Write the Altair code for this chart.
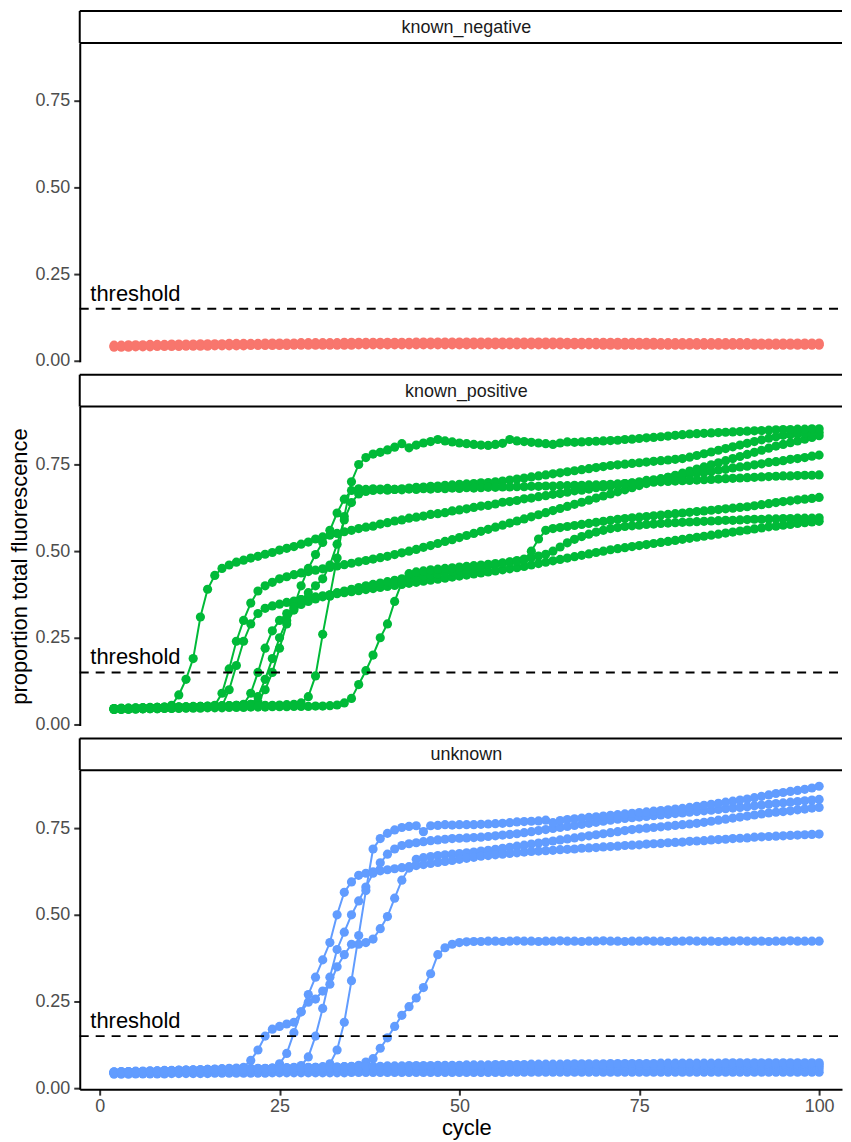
import altair as alt
import pandas as pd

cycles = list(range(2, 101))
threshold = 0.15

# ---------------- known_negative ----------------
neg_a = [.042,.042,.043,.043,.043,.044,.044,.044,.045,.045,
         .045,.045,.046,.046,.046,.046,.047,.047,.047,.047,
         .047,.048,.048,.048,.048,.048,.049,.049,.049,.049,
         .049,.049,.049,.050,.050,.050,.050,.050,.050,.050,
         .050,.050,.050,.050,.051,.051,.051,.051,.051,.051,
         .051,.051,.051,.051,.051,.051,.051,.051,.051,.051,
         .051,.051,.050,.050,.050,.050,.050,.050,.050,.050,
         .050,.050,.050,.050,.050,.050,.049,.049,.049,.049,
         .049,.049,.049,.049,.049,.049,.049,.049,.048,.048,
         .048,.048,.048,.048,.048,.048,.048,.048,.048]
neg_b = [.039,.039,.039,.040,.040,.040,.041,.041,.041,.041,
         .042,.042,.042,.042,.043,.043,.043,.043,.043,.044,
         .044,.044,.044,.044,.044,.045,.045,.045,.045,.045,
         .045,.045,.045,.045,.046,.046,.046,.046,.046,.046,
         .046,.046,.046,.046,.046,.046,.046,.046,.046,.046,
         .046,.046,.046,.046,.046,.046,.046,.046,.046,.046,
         .046,.046,.046,.046,.046,.046,.046,.046,.045,.045,
         .045,.045,.045,.045,.045,.045,.045,.045,.045,.045,
         .045,.045,.045,.045,.045,.045,.045,.045,.045,.045,
         .045,.045,.045,.045,.045,.045,.045,.045,.045]
neg_c = [.045,.045,.046,.046,.046,.047,.047,.047,.048,.048,
         .048,.048,.049,.049,.049,.049,.050,.050,.050,.050,
         .050,.051,.051,.051,.051,.051,.052,.052,.052,.052,
         .052,.052,.053,.053,.053,.053,.053,.053,.053,.053,
         .053,.053,.054,.054,.054,.054,.054,.054,.054,.054,
         .054,.054,.054,.054,.054,.054,.054,.054,.054,.054,
         .054,.054,.054,.053,.053,.053,.053,.053,.053,.053,
         .053,.053,.053,.053,.053,.053,.052,.052,.052,.052,
         .052,.052,.052,.052,.052,.052,.052,.052,.052,.051,
         .051,.051,.051,.051,.051,.051,.051,.051,.051]

# ---------------- known_positive ----------------
pos_1 = [.045,.046,.046,.047,.048,.048,.049,.050,.055,.085,
         .130,.190,.310,.390,.430,.450,.460,.468,.474,.480,
         .485,.491,.496,.503,.508,.513,.520,.526,.535,.541,
         .546,.551,.556,.560,.565,.569,.572,.578,.582,.587,
         .590,.595,.598,.601,.606,.608,.611,.616,.619,.622,
         .626,.630,.632,.636,.641,.643,.646,.651,.653,.657,
         .660,.664,.666,.670,.674,.676,.679,.683,.685,.688,
         .691,.695,.697,.700,.704,.706,.709,.713,.715,.718,
         .721,.725,.727,.730,.734,.736,.740,.743,.745,.749,
         .752,.756,.758,.761,.765,.767,.770,.774,.777]
pos_2 = [.044,.045,.045,.046,.046,.047,.047,.048,.048,.049,
         .049,.050,.051,.052,.055,.090,.160,.240,.300,.350,
         .385,.400,.410,.420,.426,.432,.437,.441,.445,.449,
         .453,.457,.461,.465,.469,.473,.477,.481,.485,.490,
         .495,.500,.505,.511,.516,.522,.528,.533,.539,.545,
         .551,.557,.563,.569,.575,.581,.587,.593,.599,.605,
         .611,.617,.623,.629,.635,.641,.647,.653,.659,.665,
         .671,.677,.683,.689,.695,.701,.707,.713,.719,.725,
         .731,.737,.743,.749,.755,.761,.767,.773,.779,.785,
         .791,.797,.803,.808,.813,.818,.823,.828,.833]
pos_3 = [.043,.044,.044,.045,.045,.046,.046,.047,.047,.048,
         .048,.049,.049,.050,.051,.053,.100,.170,.240,.290,
         .320,.335,.342,.347,.352,.356,.360,.364,.368,.371,
         .374,.377,.380,.383,.386,.389,.392,.395,.398,.401,
         .404,.407,.410,.413,.416,.419,.422,.425,.428,.431,
         .434,.437,.440,.443,.446,.449,.452,.456,.460,.464,
         .468,.472,.476,.480,.484,.488,.492,.496,.500,.504,
         .507,.510,.513,.516,.519,.522,.525,.528,.531,.534,
         .537,.540,.543,.546,.549,.552,.555,.558,.561,.564,
         .567,.570,.572,.575,.577,.580,.582,.584,.586]
pos_4 = [.046,.046,.047,.047,.048,.048,.049,.049,.050,.050,
         .051,.051,.052,.052,.053,.053,.054,.055,.058,.090,
         .150,.220,.270,.300,.320,.335,.346,.355,.362,.368,
         .374,.380,.385,.390,.395,.400,.404,.408,.412,.416,
         .420,.423,.426,.429,.432,.435,.438,.441,.444,.447,
         .450,.453,.457,.461,.465,.469,.473,.477,.481,.486,
         .491,.500,.512,.524,.534,.542,.549,.555,.560,.565,
         .568,.571,.573,.575,.577,.578,.580,.581,.582,.583,
         .584,.585,.586,.587,.588,.589,.589,.590,.591,.592,
         .592,.593,.593,.594,.594,.595,.595,.595,.596]
pos_5 = [.045,.045,.046,.046,.047,.047,.048,.048,.049,.049,
         .050,.050,.051,.051,.052,.052,.053,.054,.055,.058,
         .080,.130,.190,.250,.300,.340,.400,.450,.490,.525,
         .560,.610,.650,.675,.680,.678,.680,.679,.681,.678,
         .680,.682,.684,.685,.687,.688,.690,.691,.693,.694,
         .695,.697,.698,.700,.702,.705,.708,.711,.714,.717,
         .720,.723,.726,.729,.732,.735,.738,.741,.744,.747,
         .749,.751,.753,.755,.757,.759,.761,.763,.765,.767,
         .771,.776,.781,.786,.791,.796,.801,.806,.811,.816,
         .821,.826,.830,.834,.836,.838,.840,.841,.842]
pos_6 = [.046,.047,.047,.048,.048,.049,.049,.050,.050,.051,
         .051,.052,.052,.053,.053,.054,.054,.055,.056,.058,
         .065,.100,.150,.220,.290,.330,.360,.380,.400,.420,
         .460,.520,.590,.640,.665,.672,.675,.677,.676,.678,
         .677,.679,.678,.680,.679,.681,.680,.682,.681,.683,
         .682,.683,.684,.684,.685,.685,.686,.686,.687,.687,
         .688,.688,.689,.689,.690,.690,.691,.691,.692,.693,
         .694,.695,.696,.697,.698,.699,.700,.701,.702,.703,
         .704,.705,.706,.707,.708,.709,.710,.711,.712,.713,
         .714,.715,.716,.717,.717,.718,.719,.719,.720]
pos_7 = [.044,.045,.045,.046,.046,.047,.047,.048,.048,.049,
         .049,.050,.050,.051,.051,.052,.052,.053,.053,.054,
         .054,.055,.055,.056,.057,.058,.062,.080,.140,.260,
         .370,.480,.600,.700,.750,.770,.780,.785,.792,.800,
         .810,.798,.806,.812,.816,.822,.818,.815,.812,.810,
         .808,.806,.805,.808,.811,.822,.818,.816,.814,.812,
         .810,.808,.812,.815,.814,.815,.816,.817,.818,.819,
         .820,.822,.823,.825,.827,.828,.830,.832,.834,.836,
         .838,.839,.840,.841,.842,.843,.844,.845,.846,.847,
         .848,.849,.850,.851,.851,.852,.852,.853,.853]
pos_8 = [.043,.043,.044,.044,.045,.045,.045,.046,.046,.046,
         .047,.047,.047,.048,.048,.048,.049,.049,.049,.050,
         .050,.050,.051,.051,.051,.052,.052,.052,.053,.053,
         .054,.056,.062,.075,.115,.155,.200,.250,.290,.355,
         .410,.435,.440,.443,.446,.448,.450,.452,.454,.456,
         .458,.460,.462,.464,.466,.468,.470,.475,.500,.535,
         .560,.565,.568,.571,.574,.577,.580,.583,.586,.589,
         .592,.594,.596,.598,.600,.602,.604,.606,.608,.610,
         .612,.614,.616,.618,.620,.622,.624,.626,.628,.631,
         .634,.637,.640,.643,.645,.648,.650,.652,.655]

# ---------------- unknown ----------------
unk_1 = [.045,.046,.046,.047,.048,.048,.049,.050,.050,.051,
         .052,.052,.053,.054,.055,.056,.057,.058,.060,.080,
         .110,.150,.170,.178,.185,.190,.220,.248,.257,.280,
         .300,.350,.385,.415,.415,.420,.430,.460,.495,.548,
         .600,.635,.660,.665,.668,.671,.673,.675,.677,.679,
         .681,.684,.686,.689,.692,.695,.698,.701,.704,.707,
         .710,.713,.716,.719,.722,.725,.728,.731,.734,.737,
         .740,.743,.746,.748,.750,.752,.754,.756,.758,.760,
         .762,.764,.767,.770,.773,.776,.779,.782,.785,.788,
         .791,.794,.796,.798,.800,.803,.805,.808,.810]
unk_2 = [.044,.045,.045,.046,.046,.047,.047,.048,.048,.049,
         .049,.050,.050,.051,.051,.052,.052,.053,.053,.054,
         .055,.056,.058,.070,.100,.160,.220,.270,.320,.370,
         .420,.500,.565,.595,.614,.620,.624,.627,.630,.633,
         .636,.639,.642,.645,.648,.651,.654,.657,.660,.663,
         .666,.669,.671,.673,.675,.677,.679,.681,.683,.684,
         .685,.686,.688,.689,.690,.692,.693,.694,.696,.697,
         .698,.700,.701,.702,.704,.705,.706,.708,.709,.710,
         .712,.713,.714,.716,.717,.718,.720,.721,.722,.724,
         .725,.726,.727,.728,.729,.730,.731,.732,.733]
unk_3 = [.046,.046,.047,.047,.048,.048,.049,.049,.050,.050,
         .051,.051,.052,.052,.053,.053,.054,.054,.055,.055,
         .056,.056,.057,.057,.058,.060,.065,.090,.150,.230,
         .320,.400,.450,.500,.540,.580,.620,.650,.675,.690,
         .700,.705,.708,.711,.714,.716,.718,.720,.721,.722,
         .723,.724,.726,.728,.730,.732,.734,.737,.740,.743,
         .746,.749,.752,.755,.758,.761,.764,.767,.770,.773,
         .776,.778,.780,.782,.784,.786,.788,.790,.792,.794,
         .796,.798,.800,.802,.804,.806,.808,.810,.812,.815,
         .817,.819,.821,.823,.825,.827,.829,.831,.833]
unk_4 = [.044,.045,.045,.046,.046,.047,.047,.048,.048,.049,
         .049,.050,.050,.051,.051,.052,.052,.053,.053,.054,
         .054,.055,.055,.056,.056,.057,.058,.059,.060,.062,
         .070,.110,.190,.310,.440,.570,.690,.720,.735,.745,
         .752,.755,.757,.740,.757,.758,.760,.759,.760,.760,
         .760,.761,.762,.763,.764,.766,.768,.769,.770,.771,
         .773,.766,.772,.775,.777,.779,.781,.783,.785,.787,
         .789,.791,.793,.795,.797,.799,.801,.803,.805,.807,
         .810,.813,.816,.819,.822,.825,.828,.831,.834,.838,
         .842,.846,.850,.853,.856,.859,.862,.866,.871]
unk_5 = [.045,.045,.046,.046,.047,.047,.048,.048,.049,.049,
         .050,.050,.051,.051,.052,.052,.053,.053,.054,.054,
         .055,.055,.056,.056,.057,.057,.058,.058,.059,.059,
         .060,.061,.062,.063,.066,.075,.085,.115,.145,.178,
         .210,.235,.260,.290,.330,.385,.405,.415,.420,.422,
         .423,.423,.424,.424,.423,.424,.425,.424,.424,.423,
         .424,.424,.425,.424,.424,.423,.424,.424,.425,.424,
         .424,.423,.424,.424,.425,.424,.424,.423,.424,.424,
         .425,.424,.424,.424,.423,.424,.424,.425,.424,.424,
         .424,.423,.424,.424,.425,.424,.424,.424,.424]
unk_6 = [.040,.040,.040,.041,.041,.041,.041,.041,.042,.042,
         .042,.042,.042,.042,.043,.043,.043,.043,.043,.043,
         .043,.043,.044,.044,.044,.044,.044,.044,.044,.044,
         .044,.044,.044,.045,.045,.045,.045,.045,.045,.045,
         .045,.045,.045,.045,.045,.045,.045,.045,.045,.045,
         .045,.045,.045,.045,.045,.046,.046,.046,.046,.046,
         .046,.046,.046,.046,.046,.046,.046,.046,.046,.046,
         .046,.046,.046,.046,.046,.046,.046,.046,.046,.046,
         .046,.046,.046,.046,.046,.046,.046,.046,.046,.046,
         .046,.046,.046,.046,.046,.046,.046,.046,.046]
unk_7 = [.043,.043,.044,.044,.044,.045,.045,.045,.046,.046,
         .046,.046,.047,.047,.047,.047,.048,.048,.048,.048,
         .049,.049,.049,.049,.050,.050,.050,.050,.050,.051,
         .051,.051,.051,.051,.051,.052,.052,.052,.052,.052,
         .052,.052,.053,.053,.053,.053,.053,.053,.053,.053,
         .053,.054,.054,.054,.054,.054,.054,.054,.054,.054,
         .054,.054,.054,.054,.054,.055,.055,.055,.055,.055,
         .055,.055,.055,.055,.055,.055,.055,.055,.055,.055,
         .055,.055,.055,.055,.055,.055,.055,.055,.055,.055,
         .055,.055,.055,.055,.055,.055,.055,.055,.055]
unk_8 = [.045,.045,.046,.046,.047,.047,.048,.048,.048,.049,
         .049,.050,.050,.050,.051,.051,.051,.052,.052,.052,
         .053,.053,.053,.054,.054,.054,.055,.055,.055,.055,
         .056,.056,.056,.056,.057,.057,.057,.057,.058,.058,
         .058,.058,.058,.059,.059,.059,.059,.059,.059,.060,
         .060,.060,.060,.060,.060,.060,.061,.061,.061,.061,
         .061,.061,.061,.061,.061,.061,.061,.062,.062,.062,
         .062,.062,.062,.062,.062,.062,.062,.062,.062,.062,
         .062,.062,.062,.062,.062,.062,.062,.062,.062,.062,
         .062,.062,.062,.062,.062,.062,.062,.062,.062]
unk_9 = [.046,.047,.047,.048,.048,.049,.049,.050,.050,.051,
         .051,.052,.052,.052,.053,.053,.054,.054,.054,.055,
         .055,.055,.056,.056,.056,.057,.057,.057,.058,.058,
         .058,.059,.059,.059,.060,.060,.060,.061,.061,.061,
         .061,.062,.062,.062,.062,.063,.063,.063,.063,.064,
         .064,.064,.064,.064,.065,.065,.065,.065,.065,.065,
         .066,.066,.066,.066,.066,.066,.066,.067,.067,.067,
         .067,.067,.067,.067,.067,.067,.067,.068,.068,.068,
         .068,.068,.068,.068,.068,.068,.068,.068,.068,.068,
         .068,.068,.068,.068,.068,.068,.068,.068,.068]
unk_10 = [.047,.048,.048,.049,.049,.050,.050,.051,.051,.052,
          .052,.053,.053,.054,.054,.055,.055,.056,.056,.057,
          .057,.057,.058,.058,.059,.059,.059,.060,.060,.061,
          .061,.061,.062,.062,.062,.063,.063,.063,.064,.064,
          .064,.065,.065,.065,.065,.066,.066,.066,.066,.067,
          .067,.067,.067,.068,.068,.068,.068,.068,.069,.069,
          .069,.069,.069,.070,.070,.070,.070,.070,.070,.071,
          .071,.071,.071,.071,.071,.071,.072,.072,.072,.072,
          .072,.072,.072,.072,.072,.073,.073,.073,.073,.073,
          .073,.073,.073,.073,.073,.073,.073,.073,.073]

panels = [
    ("known_negative", "#F8766D", {"n1": neg_a, "n2": neg_b, "n3": neg_c}),
    ("known_positive", "#00BA38", {"p1": pos_1, "p2": pos_2, "p3": pos_3, "p4": pos_4,
                                   "p5": pos_5, "p6": pos_6, "p7": pos_7, "p8": pos_8}),
    ("unknown", "#619CFF", {"u1": unk_1, "u2": unk_2, "u3": unk_3, "u4": unk_4, "u5": unk_5,
                            "u6": unk_6, "u7": unk_7, "u8": unk_8, "u9": unk_9, "u10": unk_10}),
]

W, H, S = 765, 320, 32
XDOM = [-2.77, 103.18]
YDOM = [-0.003, 0.917]
FONT = "Liberation Sans"


def make_panel(name, color, series, bottom, show_title):
    rows = []
    for well, vals in series.items():
        for c, v in zip(cycles, vals):
            rows.append({"cycle": c, "value": v, "well": well})
    df = pd.DataFrame(rows)

    xscale = alt.Scale(domain=XDOM, nice=False, zero=False)
    yscale = alt.Scale(domain=YDOM, nice=False, zero=False)
    if bottom:
        xaxis = alt.Axis(values=[0, 25, 50, 75, 100], title="cycle", titlePadding=3,
                         labelPadding=2, titleX=388)
    else:
        xaxis = None
    yaxis = alt.Axis(values=[0, 0.25, 0.5, 0.75], format=".2f",
                     title="proportion total fluorescence",
                     titleOpacity=1 if show_title else 0, titlePadding=3)
    x = alt.X("cycle:Q", scale=xscale, axis=xaxis)
    y = alt.Y("value:Q", scale=yscale, axis=yaxis)

    base = alt.Chart(df)
    lines = base.mark_line(color=color, strokeWidth=2).encode(x=x, y=y, detail="well:N")
    pts = base.mark_circle(color=color, size=85, opacity=1).encode(x=x, y=y, detail="well:N")

    thr_df = pd.DataFrame({"value": [threshold]})
    thr = alt.Chart(thr_df).mark_rule(color="black", strokeDash=[9, 7], strokeWidth=2).encode(
        y=alt.Y("value:Q", scale=yscale), x=alt.value(0), x2=alt.value(W))
    lab_df = pd.DataFrame({"cycle": [-1.3], "value": [0.173], "txt": ["threshold"]})
    lab = alt.Chart(lab_df).mark_text(align="left", baseline="alphabetic", fontSize=22,
                                      font=FONT, color="black").encode(
        x=alt.X("cycle:Q", scale=xscale), y=alt.Y("value:Q", scale=yscale), text="txt:N")

    strip_df = pd.DataFrame({"label": [name]})
    sbase = alt.Chart(strip_df)
    srect = sbase.mark_rect(fill="white").encode(
        x=alt.value(0), x2=alt.value(W), y=alt.value(-S), y2=alt.value(0))
    stop = sbase.mark_rule(color="black", strokeWidth=2).encode(
        x=alt.value(0), x2=alt.value(W), y=alt.value(-S))
    sbot = sbase.mark_rule(color="black", strokeWidth=2).encode(
        x=alt.value(0), x2=alt.value(W), y=alt.value(0))
    sleft = sbase.mark_rule(color="black", strokeWidth=2).encode(
        x=alt.value(0), y=alt.value(-S), y2=alt.value(0))
    stext = sbase.mark_text(fontSize=18, font=FONT, color="#1A1A1A", baseline="middle").encode(
        x=alt.value(388), y=alt.value(-S / 2 + 1), text="label:N")

    return alt.layer(srect, stop, sbot, sleft, stext, lines, pts, thr, lab).properties(
        width=W, height=H)


charts = []
for i, (name, color, series) in enumerate(panels):
    charts.append(make_panel(name, color, series, bottom=(i == 2), show_title=(i == 1)))

chart = alt.vconcat(*charts, spacing=4).properties(
    padding={"left": 0, "top": 0, "right": 0, "bottom": 0},
    background="white",
).configure_view(stroke=None).configure_axis(
    grid=False, domainColor="black", domainWidth=2, tickColor="#333333", tickWidth=2,
    tickSize=6, labelFont=FONT, titleFont=FONT, labelFontSize=18, labelColor="#4D4D4D",
    titleFontSize=22, titleFontWeight="normal", titleColor="black", labelPadding=4,
)

chart.save("out.html", embed_options={"renderer": "svg", "actions": False})
